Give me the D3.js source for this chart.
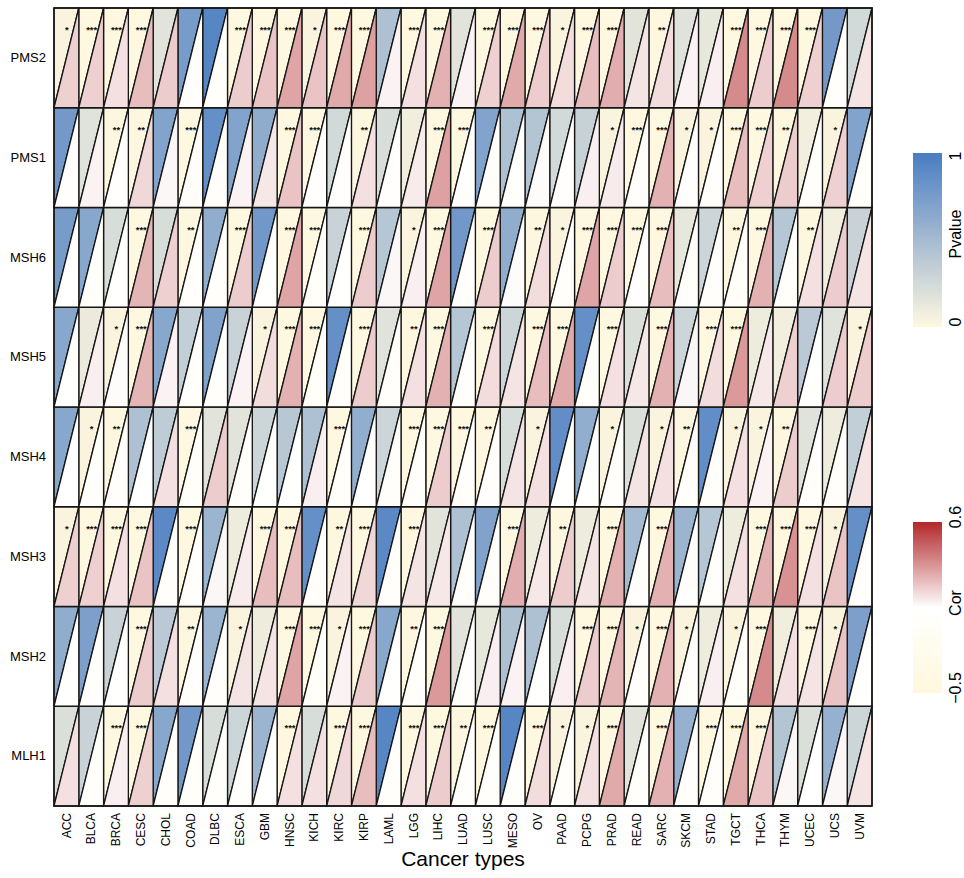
<!DOCTYPE html>
<html>
<head>
<meta charset="utf-8">
<script src="https://cdn.jsdelivr.net/npm/d3@7/dist/d3.min.js"></script>
<style>
  body { margin: 0; background: #fff; }
  svg { display: block; font-family: Arial, "Liberation Sans", Helvetica, sans-serif; }
</style>
</head>
<body>
<svg id="chart"></svg>
<script>
// categories
const cancers = ['ACC','BLCA','BRCA','CESC','CHOL','COAD','DLBC','ESCA','GBM','HNSC','KICH','KIRC','KIRP','LAML','LGG','LIHC','LUAD','LUSC','MESO','OV','PAAD','PCPG','PRAD','READ','SARC','SKCM','STAD','TGCT','THCA','THYM','UCEC','UCS','UVM'];
const genes = ['PMS2','PMS1','MSH6','MSH5','MSH4','MSH3','MSH2','MLH1'];

// p values per gene (same order as cancers)
const pPMS2 = [0.03,0.0005,0.0005,0.0005,0.16,0.75,0.93,0.0005,0.0005,0.0005,0.03,0.0005,0.0005,0.45,0.0005,0.0005,0.16,0.0005,0.0005,0.0005,0.03,0.0005,0.0005,0.16,0.005,0.17,0.13,0.0005,0.0005,0.0005,0.0005,0.77,0.25];
const pPMS1 = [0.77,0.17,0.005,0.005,0.69,0.0005,0.85,0.69,0.62,0.0005,0.0005,0.25,0.005,0.22,0.08,0.0005,0.0005,0.69,0.45,0.42,0.25,0.31,0.03,0.0005,0.0005,0.03,0.03,0.0005,0.0005,0.005,0.07,0.03,0.69];
const pMSH6 = [0.75,0.66,0.22,0.0005,0.22,0.005,0.61,0.0005,0.78,0.0005,0.0005,0.3,0.0005,0.41,0.03,0.0005,0.78,0.0005,0.61,0.005,0.03,0.0005,0.0005,0.0005,0.0005,0.13,0.28,0.005,0.0005,0.41,0.005,0.07,0.3];
const pMSH5 = [0.66,0.11,0.03,0.0005,0.66,0.33,0.7,0.3,0.03,0.0005,0.0005,0.85,0.0005,0.17,0.005,0.0005,0.41,0.0005,0.28,0.0005,0.0005,0.85,0.0005,0.2,0.0005,0.28,0.0005,0.0005,0.1,0.07,0.38,0.17,0.03];
const pMSH4 = [0.66,0.03,0.005,0.45,0.36,0.0005,0.16,0.16,0.28,0.4,0.45,0.0005,0.6,0.28,0.0005,0.0005,0.0005,0.005,0.22,0.03,0.87,0.6,0.03,0.2,0.03,0.005,0.87,0.03,0.03,0.005,0.17,0.1,0.33];
const pMSH3 = [0.03,0.0005,0.0005,0.0005,0.9,0.0005,0.55,0.1,0.0005,0.0005,0.85,0.005,0.0005,0.9,0.0005,0.16,0.45,0.7,0.0005,0.1,0.005,0.1,0.0005,0.5,0.0005,0.55,0.41,0.1,0.0005,0.0005,0.0005,0.03,0.85];
const pMSH2 = [0.61,0.72,0.3,0.0005,0.38,0.005,0.55,0.03,0.1,0.0005,0.0005,0.03,0.0005,0.66,0.005,0.0005,0.16,0.13,0.45,0.45,0.22,0.0005,0.0005,0.03,0.0005,0.03,0.1,0.03,0.0005,0.08,0.0005,0.03,0.72];
const pMLH1 = [0.2,0.3,0.0005,0.0005,0.66,0.78,0.22,0.28,0.55,0.0005,0.22,0.0005,0.0005,0.93,0.0005,0.0005,0.005,0.0005,0.93,0.0005,0.03,0.03,0.0005,0.16,0.0005,0.58,0.0005,0.0005,0.0005,0.42,0.2,0.58,0.28];

// correlation per gene
const corPMS2 = [0.17,0.17,0.13,0.22,0.18,-0.02,-0.03,0.18,0.2,0.28,0.2,0.27,0.29,0.08,0.13,0.25,0.08,0.17,0.27,0.18,0.14,0.22,0.26,0.12,0.14,0.08,0.09,0.35,0.18,0.35,0.17,-0.03,0.12];
const corPMS1 = [0.0,0.08,0.0,0.15,0.07,-0.08,-0.02,0.08,0.11,0.2,0.0,0.0,0.13,0.0,0.1,0.29,0.03,-0.02,0.03,0.06,0.0,0.09,0.1,-0.03,0.25,0.0,-0.02,0.22,0.17,0.18,-0.02,0.17,-0.02];
const corMSH6 = [0.05,-0.02,0.04,0.24,0.17,-0.02,-0.02,0.18,0.02,0.28,-0.05,0.04,0.18,0.07,0.09,0.28,-0.01,0.18,0.06,0.14,-0.01,0.28,0.18,0.01,0.22,-0.02,-0.02,-0.04,0.25,-0.01,0.13,0.18,0.12];
const corMSH5 = [0.03,0.09,0.06,0.24,0.08,-0.02,-0.02,0.08,0.14,0.25,-0.05,-0.02,0.18,-0.01,0.13,0.25,-0.01,0.14,0.12,0.22,0.27,-0.02,0.13,0.11,0.25,0.07,0.14,0.31,0.11,0.17,0.04,0.18,0.18];
const corMSH4 = [0.05,-0.02,-0.02,0.05,0.13,-0.05,0.18,-0.01,0.02,0.04,0.09,-0.01,0.04,-0.01,-0.03,0.18,-0.01,-0.02,0.12,0.13,0.02,0.04,-0.01,0.12,0.13,-0.02,-0.01,0.13,0.08,0.18,-0.01,-0.03,0.12];
const corMSH3 = [0.17,0.17,0.13,0.2,-0.02,-0.02,0.07,0.1,0.22,0.22,-0.01,0.12,0.15,-0.01,0.12,0.11,-0.01,-0.01,0.26,0.11,0.18,0.12,0.25,-0.02,0.25,0.01,-0.01,0.13,0.25,0.33,0.13,0.2,0.0];
const corMSH2 = [0.03,0.01,0.03,0.18,0.13,-0.02,-0.02,0.12,0.12,0.28,-0.04,0.08,0.18,0.03,-0.02,0.31,-0.01,0.09,0.08,0.03,0.09,0.18,0.24,-0.02,0.25,-0.02,0.09,-0.04,0.35,0.13,0.12,0.2,0.03];
const corMLH1 = [0.13,-0.02,0.09,0.17,-0.02,-0.02,-0.01,-0.03,0.04,0.13,0.13,0.15,0.22,-0.01,0.13,0.18,-0.01,-0.03,-0.01,0.14,-0.03,0.13,0.27,-0.02,0.25,-0.01,-0.03,0.27,0.2,0.07,0.05,0.07,0.12];

const pRows = [pPMS2, pPMS1, pMSH6, pMSH5, pMSH4, pMSH3, pMSH2, pMLH1];
const corRows = [corPMS2, corPMS1, corMSH6, corMSH5, corMSH4, corMSH3, corMSH2, corMLH1];

// legend tick labels
const pTicks = [0, 1];
const corTicks = [-0.5, 0.6];

// Dimensões
const width = 964, height = 878;
const gridLeft = 54, gridRight = 872, gridTop = 8, gridBottom = 806;

const svg = d3.select('#chart').attr('width', width).attr('height', height);

const x = d3.scaleBand().domain(cancers).range([gridLeft, gridRight]);
const y = d3.scaleBand().domain(genes).range([gridTop, gridBottom]);

const pColor = d3.scaleLinear().domain([0, 1]).range(['#FFF8E0', '#4A7DC2']);
const corColor = d3.scaleLinear().domain([-0.5, 0.05, 0.6]).range(['#FFF8DC', '#FFFFFF', '#B2282A']);

const stars = p => p < 0.001 ? '***' : p < 0.01 ? '**' : p < 0.05 ? '*' : '';

// montar células
const cells = [];
genes.forEach((g, i) => {
  cancers.forEach((c, j) => {
    cells.push({ gene: g, cancer: c, p: pRows[i][j], cor: corRows[i][j] });
  });
});

const cellG = svg.append('g');
const bw = x.bandwidth(), bh = y.bandwidth();

cellG.selectAll('path.pv')
  .data(cells)
  .enter().append('path')
  .attr('class', 'pv')
  .attr('d', d => {
    const x0 = x(d.cancer), y0 = y(d.gene);
    return `M${x0},${y0}L${x0 + bw},${y0}L${x0},${y0 + bh}Z`;
  })
  .attr('fill', d => pColor(d.p))
  .attr('stroke', '#161616')
  .attr('stroke-width', 1.3)
  .attr('stroke-linejoin', 'round');

cellG.selectAll('path.cor')
  .data(cells)
  .enter().append('path')
  .attr('class', 'cor')
  .attr('d', d => {
    const x0 = x(d.cancer), y0 = y(d.gene);
    return `M${x0 + bw},${y0}L${x0 + bw},${y0 + bh}L${x0},${y0 + bh}Z`;
  })
  .attr('fill', d => corColor(d.cor))
  .attr('stroke', '#161616')
  .attr('stroke-width', 1.3)
  .attr('stroke-linejoin', 'round');

// estrelas
cellG.selectAll('text.star')
  .data(cells.filter(d => stars(d.p)))
  .enter().append('text')
  .attr('class', 'star')
  .attr('x', d => x(d.cancer) + bw / 2 + 0.5)
  .attr('y', d => y(d.gene) + 25)
  .attr('text-anchor', 'middle')
  .attr('font-size', '9.5px')
  .attr('font-weight', 'bold')
  .attr('fill', '#111')
  .text(d => stars(d.p));

svg.append('rect')
  .attr('x', gridLeft).attr('y', gridTop)
  .attr('width', gridRight - gridLeft).attr('height', gridBottom - gridTop)
  .attr('fill', 'none').attr('stroke', '#161616').attr('stroke-width', 1.5);

// eixos
const yAxis = svg.append('g')
  .attr('transform', `translate(${gridLeft},0)`)
  .call(d3.axisLeft(y).tickSize(0).tickPadding(8));
yAxis.select('.domain').remove();
yAxis.selectAll('text').attr('font-size', '13px').attr('fill', '#000')
  .style('font-family', 'Arial, "Liberation Sans", sans-serif');

const xAxis = svg.append('g')
  .attr('transform', `translate(0,${gridBottom})`)
  .call(d3.axisBottom(x).tickSize(0).tickPadding(7));
xAxis.select('.domain').remove();
xAxis.selectAll('text')
  .attr('font-size', '12px').attr('fill', '#000')
  .style('font-family', 'Arial, "Liberation Sans", sans-serif')
  .attr('text-anchor', 'end')
  .attr('transform', 'rotate(-90)')
  .attr('x', -7).attr('y', 0).attr('dy', '0.35em');

svg.append('text')
  .attr('x', (gridLeft + gridRight) / 2)
  .attr('y', 866)
  .attr('text-anchor', 'middle')
  .attr('font-size', '21px')
  .attr('fill', '#000')
  .text('Cancer types');

// legendas
const defs = svg.append('defs');
function gradient(id, scale, domain) {
  const g = defs.append('linearGradient').attr('id', id)
    .attr('x1', 0).attr('y1', 1).attr('x2', 0).attr('y2', 0);
  d3.range(0, 1.0001, 0.05).forEach(t => {
    const v = domain[0] + t * (domain[1] - domain[0]);
    g.append('stop').attr('offset', t).attr('stop-color', scale(v));
  });
}
gradient('gradP', pColor, pTicks);
gradient('gradCor', corColor, corTicks);

function legend(id, y0, y1, title, titleY, lowLabel, lowY, highLabel, highY) {
  svg.append('rect')
    .attr('x', 913).attr('y', y0)
    .attr('width', 29).attr('height', y1 - y0)
    .attr('fill', `url(#${id})`);
  const lab = (txt, yy) => svg.append('text')
    .attr('transform', `translate(961,${yy}) rotate(-90)`)
    .attr('text-anchor', 'middle')
    .attr('font-size', '16px')
    .attr('fill', '#000')
    .text(txt);
  lab(highLabel, highY);
  lab(title, titleY);
  lab(lowLabel, lowY);
}
legend('gradP', 153, 327, 'Pvalue', 234, String(pTicks[0]), 322, String(pTicks[1]), 156);
legend('gradCor', 522, 693, 'Cor', 603, '\u22120.5', 688, String(corTicks[1]), 517);
</script>
</body>
</html>
